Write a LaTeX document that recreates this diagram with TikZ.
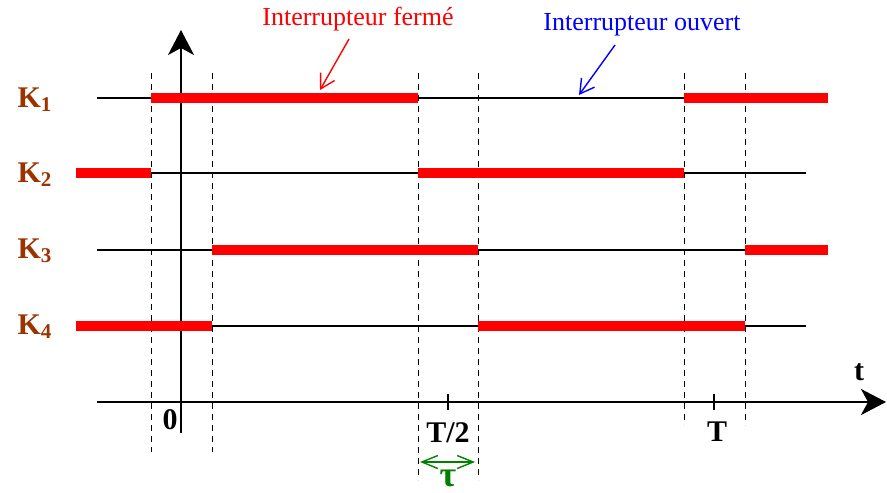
\documentclass[tikz,border=0pt]{standalone}
\usepackage{fontspec}
\setmainfont{Liberation Serif}
\usetikzlibrary{arrows.meta}
\definecolor{brun}{RGB}{153,51,0}
\definecolor{vert}{RGB}{0,128,0}

\begin{document}
\begin{tikzpicture}[x=0.5pt,y=-0.5pt,line width=1pt,
  ferme/.style={red,line width=5.3pt},
  pointille/.style={line width=0.5pt,dash pattern=on 3pt off 2.5pt},
  etiq/.style={font=\bfseries\fontsize{15}{18}\selectfont},
  texte/.style={font=\fontsize{13}{16}\selectfont},
  fleche/.style={line width=0.7pt,-{Straight Barb[length=7pt,width=8pt]}},
  axe/.style={-{Stealth[length=12.5pt,width=13pt,inset=3.5pt]}}]
  \useasboundingbox (0,0) rectangle (887,492);
  % instants de commutation
  \foreach \x/\yb in {151/452,212/452,418/480,478/480,684/425,745/425}
    \draw[pointille] (\x,73) -- (\x,\yb);
  % axes
  \draw[axe] (181,433) -- (181,30);
  \draw[axe] (97,402) -- (886,402);
  \node[etiq] (t) at (859,372) {t};
  \draw (448,394) -- (448,410);
  \draw (714,394) -- (714,410);
  \node[etiq] (zero) at (170,420) {0};
  \node[etiq] (tdemi) at (448,433) {T/2};
  \node[etiq] (tper) at (717,432) {T};
  % K1
  \node[etiq,brun] (k1) at (35,100) {K\textsubscript{1}};
  \draw (97,98) -- (828,98);
  \draw[ferme] (151,98) -- (418,98);
  \draw[ferme] (684,98) -- (828,98);
  % K2
  \node[etiq,brun] (k2) at (35,175) {K\textsubscript{2}};
  \draw (76,173) -- (806,173);
  \draw[ferme] (76,173) -- (151,173);
  \draw[ferme] (418,173) -- (684,173);
  % K3
  \node[etiq,brun] (k3) at (35,251) {K\textsubscript{3}};
  \draw (97,250) -- (828,250);
  \draw[ferme] (212,250) -- (478,250);
  \draw[ferme] (745,250) -- (828,250);
  % K4
  \node[etiq,brun] (k4) at (35,327) {K\textsubscript{4}};
  \draw (76,326) -- (806,326);
  \draw[ferme] (76,326) -- (212,326);
  \draw[ferme] (478,326) -- (745,326);
  % legendes
  \node[texte,red] (lferme) at (358,19) {Interrupteur fermé};
  \coordinate (df) at (349,39);
  \coordinate (pf) at (320,90);
  \draw[fleche,red] (df) -- (pf);
  \node[texte,blue] (louvert) at (642,25) {Interrupteur ouvert};
  \coordinate (do) at (615,45);
  \coordinate (po) at (579,95);
  \draw[fleche,blue] (do) -- (po);
  % decalage tau
  \coordinate (ta) at (420,462);
  \coordinate (tb) at (475,462);
  \draw[vert,line width=0.7pt,{Straight Barb[length=8pt,width=6.5pt]}-{Straight Barb[length=8pt,width=6.5pt]}] (ta) -- (tb);
  \node[vert,inner sep=0pt,font=\bfseries\fontsize{18}{20}\selectfont] (tau) at (448,478) {τ};
\end{tikzpicture}
\end{document}
